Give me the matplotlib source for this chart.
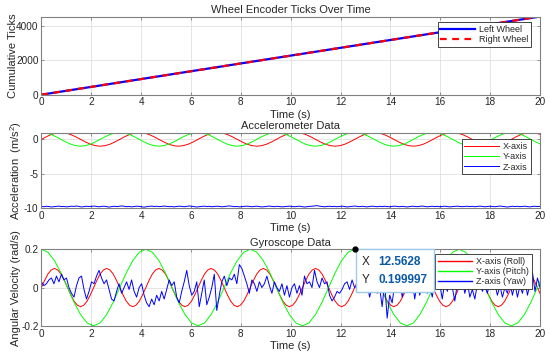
import numpy as np
import matplotlib
matplotlib.use("Agg")
import matplotlib.pyplot as plt
from matplotlib.offsetbox import TextArea, HPacker, VPacker, AnnotationBbox

plt.rcParams["font.family"] = ["Liberation Sans", "DejaVu Sans"]
plt.rcParams["mathtext.fontset"] = "custom"
plt.rcParams["mathtext.rm"] = "Liberation Sans"
plt.rcParams["axes.unicode_minus"] = False

# wheel encoder, one reading per second
wheel_t = [0, 1, 2, 3, 4, 5, 6, 7, 8, 9, 10, 11, 12, 13, 14, 15, 16, 17, 18, 19, 20]
left_ticks = [0, 228, 456, 685, 913, 1141, 1370, 1598, 1826, 2054, 2283,
              2511, 2739, 2968, 3196, 3424, 3652, 3881, 4109, 4337, 4566]
right_ticks = [0, 229, 457, 684, 912, 1142, 1369, 1597, 1827, 2055, 2282,
               2510, 2740, 2967, 3195, 3425, 3653, 3880, 4110, 4338, 4565]

# accelerometer x / y, one sample every pi/16 s
acc_dt = np.pi / 16
acc_x = [
    0, 0.38, 0.71, 0.92, 1, 0.92, 0.71, 0.38, 0, -0.38, -0.71, -0.92, -1, -0.92, -0.71, -0.38,
    0, 0.38, 0.71, 0.92, 1, 0.92, 0.71, 0.38, 0, -0.38, -0.71, -0.92, -1, -0.92, -0.71, -0.38,
    0, 0.38, 0.71, 0.92, 1, 0.92, 0.71, 0.38, 0, -0.38, -0.71, -0.92, -1, -0.92, -0.71, -0.38,
    0, 0.38, 0.71, 0.92, 1, 0.92, 0.71, 0.38, 0, -0.38, -0.71, -0.92, -1, -0.92, -0.71, -0.38,
    0, 0.38, 0.71, 0.92, 1, 0.92, 0.71, 0.38, 0, -0.38, -0.71, -0.92, -1, -0.92, -0.71, -0.38,
    0, 0.38, 0.71, 0.92, 1, 0.92, 0.71, 0.38, 0, -0.38, -0.71, -0.92, -1, -0.92, -0.71, -0.38,
    0, 0.38, 0.71, 0.92, 1, 0.92, 0.71,
]
acc_y = [
    1, 0.92, 0.71, 0.38, 0, -0.38, -0.71, -0.92, -1, -0.92, -0.71, -0.38, 0, 0.38, 0.71, 0.92,
    1, 0.92, 0.71, 0.38, 0, -0.38, -0.71, -0.92, -1, -0.92, -0.71, -0.38, 0, 0.38, 0.71, 0.92,
    1, 0.92, 0.71, 0.38, 0, -0.38, -0.71, -0.92, -1, -0.92, -0.71, -0.38, 0, 0.38, 0.71, 0.92,
    1, 0.92, 0.71, 0.38, 0, -0.38, -0.71, -0.92, -1, -0.92, -0.71, -0.38, 0, 0.38, 0.71, 0.92,
    1, 0.92, 0.71, 0.38, 0, -0.38, -0.71, -0.92, -1, -0.92, -0.71, -0.38, 0, 0.38, 0.71, 0.92,
    1, 0.92, 0.71, 0.38, 0, -0.38, -0.71, -0.92, -1, -0.92, -0.71, -0.38, 0, 0.38, 0.71, 0.92,
    1, 0.92, 0.71, 0.38, 0, -0.38, -0.71,
]

# noisy channels, 200 samples over 0..20 s
imu_t = np.linspace(0, 20, 200)
acc_z = [
    -9.81, -9.86, -9.79, -9.83, -9.90, -9.85, -9.80, -9.77, -9.84, -9.82,
    -9.88, -9.83, -9.78, -9.81, -9.75, -9.82, -9.89, -9.84, -9.79, -9.83,
    -9.80, -9.76, -9.82, -9.87, -9.81, -9.78, -9.85, -9.91, -9.84, -9.79,
    -9.83, -9.80, -9.74, -9.79, -9.85, -9.82, -9.88, -9.83, -9.78, -9.81,
    -9.86, -9.92, -9.85, -9.80, -9.77, -9.82, -9.79, -9.84, -9.81, -9.76,
    -9.80, -9.85, -9.83, -9.88, -9.82, -9.78, -9.81, -9.86, -9.80, -9.75,
    -9.79, -9.84, -9.90, -9.85, -9.81, -9.77, -9.83, -9.80, -9.86, -9.82,
    -9.78, -9.81, -9.87, -9.83, -9.79, -9.74, -9.80, -9.85, -9.82, -9.88,
    -9.84, -9.80, -9.77, -9.82, -9.86, -9.81, -9.78, -9.83, -9.89, -9.85,
    -9.80, -9.76, -9.82, -9.85, -9.79, -9.83, -9.88, -9.84, -9.80, -9.77,
    -9.81, -9.86, -9.82, -9.78, -9.84, -9.90, -9.85, -9.81, -9.79, -9.75,
    -9.70, -9.78, -9.83, -9.87, -9.82, -9.79, -9.84, -9.80, -9.86, -9.81,
    -9.77, -9.83, -9.89, -9.84, -9.80, -9.76, -9.81, -9.85, -9.79, -9.83,
    -9.88, -9.82, -9.78, -9.81, -9.86, -9.80, -9.84, -9.79, -9.83, -9.87,
    -9.81, -9.77, -9.82, -9.86, -9.80, -9.84, -9.89, -9.83, -9.78, -9.82,
    -9.85, -9.80, -9.76, -9.81, -9.87, -9.83, -9.79, -9.84, -9.80, -9.86,
    -9.82, -9.78, -9.83, -9.88, -9.84, -9.80, -9.77, -9.82, -9.85, -9.81,
    -9.79, -9.84, -9.80, -9.86, -9.82, -9.77, -9.81, -9.87, -9.83, -9.78,
    -9.82, -9.86, -9.81, -9.76, -9.80, -9.85, -9.90, -9.84, -9.79, -9.83,
    -9.80, -9.85, -9.81, -9.78, -9.84, -9.88, -9.82, -9.79, -9.83, -9.80,
]
gyro_z = [
    0.03, 0.01, 0.02, 0.04, 0.05, 0.02, 0.06, 0.03, 0.07, 0.04,
    0.05, 0.00, -0.03, -0.05, 0.01, 0.05, 0.06, -0.01, -0.06, -0.02,
    0.03, 0.02, 0.06, 0.09, 0.05, 0.02, 0.04, -0.01, -0.06, -0.07,
    -0.02, 0.02, -0.03, 0.00, 0.03, -0.01, 0.04, -0.02, -0.05, 0.00,
    0.02, -0.04, -0.08, -0.10, -0.06, -0.09, -0.04, -0.07, -0.02, -0.06,
    -0.01, 0.04, 0.01, 0.03, -0.05, -0.08, -0.02, 0.03, 0.09, 0.01,
    -0.04, -0.02, 0.03, -0.10, -0.03, 0.04, -0.09, -0.05, 0.00, 0.07,
    -0.12, -0.04, 0.03, 0.06, 0.01, 0.05, 0.04, 0.07, 0.02, 0.12,
    0.10, 0.06, 0.02, -0.03, 0.04, 0.02, -0.02, 0.03, 0.00, 0.02,
    0.06, 0.01, -0.03, 0.03, 0.00, -0.02, 0.02, -0.04, 0.01, -0.05,
    0.00, 0.02, -0.03, 0.01, -0.04, 0.06, 0.02, 0.03, 0.00, 0.09,
    0.03, 0.00, 0.05, 0.02, 0.03, -0.04, -0.07, -0.05, -0.02, -0.03,
    -0.01, 0.02, 0.03, -0.01, 0.04, 0.00, 0.01, 0.06, -0.02, 0.03,
    0.02, -0.05, 0.01, 0.04, -0.03, 0.00, -0.10, 0.03, -0.16, -0.04,
    -0.08, 0.02, -0.01, 0.05, -0.05, 0.01, 0.03, -0.02, 0.04, -0.06,
    0.03, -0.04, 0.02, 0.06, -0.03, 0.01, -0.05, 0.04, -0.01, 0.02,
    -0.06, 0.03, -0.02, 0.05, 0.00, -0.07, 0.02, -0.01, 0.04, -0.03,
    0.03, -0.05, -0.01, -0.06, 0.02, 0.04, -0.02, 0.01, -0.03, 0.03,
    -0.01, 0.02, -0.04, 0.01, -0.05, 0.00, -0.03, 0.03, -0.04, 0.02,
    -0.05, 0.01, -0.03, 0.04, -0.04, 0.02, 0.08, -0.02, 0.05, 0.00,
]

# gyro roll, one sample every pi/24 s
gyro_x_dt = np.pi / 24
gyro_x = [
    0, 0.038, 0.071, 0.092, 0.1, 0.092, 0.071, 0.038, 0, -0.038, -0.071, -0.092, -0.1, -0.092, -0.071, -0.038,
    0, 0.038, 0.071, 0.092, 0.1, 0.092, 0.071, 0.038, 0, -0.038, -0.071, -0.092, -0.1, -0.092, -0.071, -0.038,
    0, 0.038, 0.071, 0.092, 0.1, 0.092, 0.071, 0.038, 0, -0.038, -0.071, -0.092, -0.1, -0.092, -0.071, -0.038,
    0, 0.038, 0.071, 0.092, 0.1, 0.092, 0.071, 0.038, 0, -0.038, -0.071, -0.092, -0.1, -0.092, -0.071, -0.038,
    0, 0.038, 0.071, 0.092, 0.1, 0.092, 0.071, 0.038, 0, -0.038, -0.071, -0.092, -0.1, -0.092, -0.071, -0.038,
    0, 0.038, 0.071, 0.092, 0.1, 0.092, 0.071, 0.038, 0, -0.038, -0.071, -0.092, -0.1, -0.092, -0.071, -0.038,
    0, 0.038, 0.071, 0.092, 0.1, 0.092, 0.071, 0.038, 0, -0.038, -0.071, -0.092, -0.1, -0.092, -0.071, -0.038,
    0, 0.038, 0.071, 0.092, 0.1, 0.092, 0.071, 0.038, 0, -0.038, -0.071, -0.092, -0.1, -0.092, -0.071, -0.038,
    0, 0.038, 0.071, 0.092, 0.1, 0.092, 0.071, 0.038, 0, -0.038, -0.071, -0.092, -0.1, -0.092, -0.071, -0.038,
    0, 0.038, 0.071, 0.092, 0.1, 0.092, 0.071, 0.038, 0, -0.038,
]
# gyro pitch, one sample every pi/12 s
gyro_y_dt = np.pi / 12
gyro_y = [
    0.2, 0.185, 0.141, 0.077, 0, -0.077, -0.141, -0.185, -0.2, -0.185, -0.141, -0.077, 0, 0.077, 0.141, 0.185,
    0.2, 0.185, 0.141, 0.077, 0, -0.077, -0.141, -0.185, -0.2, -0.185, -0.141, -0.077, 0, 0.077, 0.141, 0.185,
    0.2, 0.185, 0.141, 0.077, 0, -0.077, -0.141, -0.185, -0.2, -0.185, -0.141, -0.077, 0, 0.077, 0.141, 0.185,
    0.2, 0.185, 0.141, 0.077, 0, -0.077, -0.141, -0.185, -0.2, -0.185, -0.141, -0.077, 0, 0.077, 0.141, 0.185,
    0.2, 0.185, 0.141, 0.077, 0, -0.077, -0.141, -0.185, -0.2, -0.185, -0.141, -0.077, 0, 0.077,
]

# data tip shown on the gyro pitch peak
tip_x = 12.5628
tip_y = 0.199997

TEXT = "#262626"
EDGE = "#808080"


def style_axes(ax, title, ylabel, ylabel_x):
    ax.set_title(title, fontsize=8, color=TEXT, pad=2.5)
    ax.set_xlabel("Time (s)", fontsize=8, color=TEXT, labelpad=1.5)
    ax.set_ylabel(ylabel, fontsize=8, color=TEXT)
    ax.yaxis.set_label_coords(ylabel_x, 0.5)
    ax.set_xlim(0, 20)
    ax.set_xticks(range(0, 21, 2))
    ax.grid(True, color="#e0e0e0", linewidth=0.6)
    ax.set_axisbelow(True)
    ax.tick_params(direction="in", top=True, right=True, length=2.5, width=0.6,
                   color=EDGE, labelcolor=TEXT, labelsize=7.2, pad=2)
    for s in ax.spines.values():
        s.set_color(EDGE)
        s.set_linewidth(0.8)


def add_legend(ax, anchor, handle_width=None):
    leg = ax.legend(loc="upper right", bbox_to_anchor=anchor, borderaxespad=0,
                    fontsize=6.5, handlelength=3.8, handletextpad=0.5,
                    labelspacing=0.15, borderpad=0.3, fancybox=False,
                    framealpha=1, edgecolor=TEXT)
    leg.get_frame().set_linewidth(0.6)
    leg.set_zorder(8)
    for t in leg.get_texts():
        t.set_color(TEXT)
    for handle, src in zip(leg.get_lines(), ax.get_lines()):
        handle.set_color(src.get_color())
        if handle_width:
            handle.set_linewidth(handle_width)
    return leg


fig = plt.figure(figsize=(5.5, 3.52), dpi=100)
fig.patch.set_facecolor("white")

# encoder ticks
ax1 = fig.add_axes([0.0753, 0.731, 0.9065, 0.222])
ax1.plot(wheel_t, left_ticks, color="#0000ff", linewidth=1.6, label="Left Wheel")
ax1.plot(wheel_t, right_ticks, color="#ff0000", linewidth=1.6, linestyle=(0, (3, 2.5)),
         label="Right Wheel")
ax1.set_ylim(0, max(left_ticks))
ax1.set_yticks([0, 2000, 4000])
style_axes(ax1, "Wheel Encoder Ticks Over Time", "Cumulative Ticks", -0.047)
add_legend(ax1, (0.982, 0.93))

# accelerometer
ax2 = fig.add_axes([0.0753, 0.409, 0.9065, 0.2145])
ax2.plot(np.arange(len(acc_x)) * acc_dt, acc_x, color="#ff0000", linewidth=0.7, label="X-axis")
ax2.plot(np.arange(len(acc_y)) * acc_dt, acc_y, color="#00ff00", linewidth=0.7, label="Y-axis")
ax2.plot(imu_t, acc_z, color="#0000ff", linewidth=0.7, label="Z-axis")
ax2.set_ylim(-10.05, 1.0)
ax2.set_yticks([-10, -5, 0])
style_axes(ax2, "Accelerometer Data", "Acceleration  (m/s$^2$)", -0.034)
add_legend(ax2, (0.982, 0.912))

# gyroscope
ax3 = fig.add_axes([0.0753, 0.0744, 0.9065, 0.2173])
ax3.plot(np.arange(len(gyro_x)) * gyro_x_dt, gyro_x, color="#ff0000", linewidth=0.7,
         label="X-axis (Roll)")
ax3.plot(np.arange(len(gyro_y)) * gyro_y_dt, gyro_y, color="#00ff00", linewidth=0.7,
         label="Y-axis (Pitch)")
ax3.plot(imu_t, gyro_z, color="#0000ff", linewidth=0.7, label="Z-axis (Yaw)")
ax3.set_ylim(-0.2, 0.2)
ax3.set_yticks([-0.2, 0, 0.2])
ax3.set_yticklabels(["-0.2", "0", "0.2"])
style_axes(ax3, "Gyroscope Data", "Angular Velocity (rad/s)", -0.04)
add_legend(ax3, (0.984, 0.939), handle_width=1.0)

# data tip box, its top-left corner sits on the tip point
lab_style = dict(fontsize=8.5, color=TEXT)
val_style = dict(fontsize=8.5, color="#0b5aa8", fontweight="bold")
rows = []
for name, val in (("X", tip_x), ("Y", tip_y)):
    rows.append(HPacker(children=[TextArea(name, textprops=lab_style),
                                  TextArea(f"{val:g}", textprops=val_style)],
                        sep=6, pad=0, align="baseline"))
tip_box = VPacker(children=rows, sep=4.5, pad=0, align="left")
tip = AnnotationBbox(tip_box, (tip_x, tip_y), xybox=(5.5, -4.5), boxcoords="offset points",
                     box_alignment=(0, 1), pad=0.45, frameon=True,
                     bboxprops=dict(boxstyle="square,pad=0.45", edgecolor="#9ccbee",
                                    facecolor="white", linewidth=1),
                     annotation_clip=False, zorder=10)
ax3.add_artist(tip)
ax3.plot([tip_x], [tip_y], "o", color="black", markersize=3.5, zorder=11, clip_on=False)

fig.savefig("out.png", dpi=100, facecolor="white")
